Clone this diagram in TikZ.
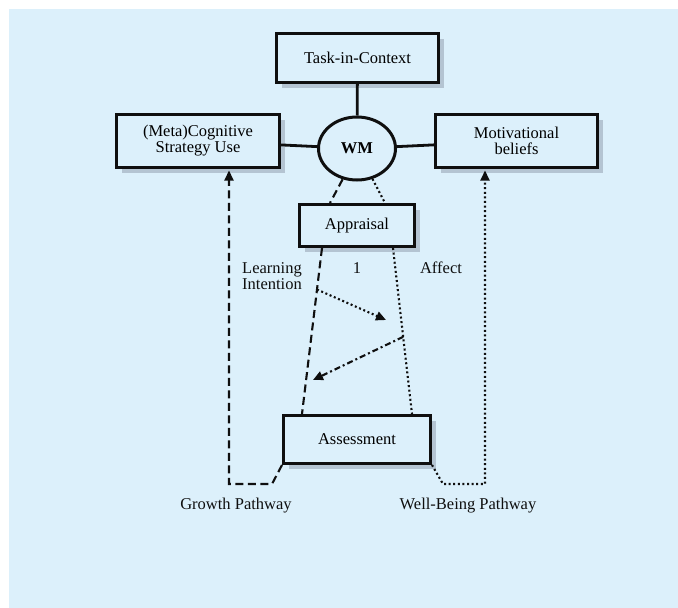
\documentclass[tikz,border=0pt]{standalone}
\usepackage{fontspec}
\setmainfont{Liberation Serif}
\usetikzlibrary{shapes.geometric,shadows,arrows.meta,calc}
\definecolor{bgblue}{RGB}{220,240,251}
\definecolor{shadowc}{RGB}{180,196,210}
\definecolor{ink}{RGB}{15,15,15}
\begin{document}
\begin{tikzpicture}[x=1pt,y=-1pt,
  box/.style={draw=ink,line width=3pt,fill=bgblue,rectangle,align=center,inner sep=0pt,
    font=\fontsize{16.5}{16}\selectfont,
    drop shadow={shadow xshift=5pt,shadow yshift=-5pt,fill=shadowc,opacity=1}},
  link/.style={draw=ink,line width=2.8pt},
  dashline/.style={draw=ink,line width=2.1pt,dash pattern=on 8pt off 4.5pt},
  dotline/.style={draw=ink,line width=2.1pt,dash pattern=on 2pt off 2.6pt},
  dashdotline/.style={draw=ink,line width=2.1pt,dash pattern=on 6pt off 3pt on 2pt off 3pt},
  tip/.style={-{Triangle[length=10pt,width=9pt]}},
  lbl/.style={font=\fontsize{16.5}{16}\selectfont,text=ink,inner sep=0pt}
]
\useasboundingbox (0,0) rectangle (678,608);
\fill[white] (0,0) rectangle (678,608);
\fill[bgblue] (9,9) rectangle (678,608);

\node[box,minimum width=162pt,minimum height=49pt] (task) at (357.5,58) {Task-in-Context};
\node[box,minimum width=163pt,minimum height=53pt] (cog) at (198,141) {(Meta)Cognitive\\Strategy Use};
\node[box,minimum width=162pt,minimum height=53pt] (mot) at (516.5,141) {Motivational\\beliefs};
\node[draw=ink,line width=3pt,fill=bgblue,ellipse,minimum width=77pt,minimum height=63pt,inner sep=0pt,
      font=\bfseries\fontsize{16.5}{16}\selectfont] (wm) at (357,148.5) {WM};
\node[box,minimum width=115pt,minimum height=42pt] (appr) at (357,225.5) {Appraisal};
\node[box,minimum width=147pt,minimum height=48pt] (assess) at (357,439.5) {Assessment};

\draw[link] (task) -- (wm);
\draw[link] (cog) -- (wm);
\draw[link] (wm) -- (mot);

\draw[dashline] (wm.245) -- ([xshift=-27pt]appr.north);
\draw[dotline] (wm.297) -- ([xshift=28pt]appr.north);

\coordinate (lt) at ([xshift=-35pt]appr.south);
\coordinate (lb) at ([xshift=-55pt]assess.north);
\coordinate (rt) at ([xshift=36pt]appr.south);
\coordinate (rb) at ([xshift=55pt]assess.north);
\draw[dashline] (lt) -- (lb);
\draw[dotline] (rt) -- (rb);

\coordinate (a1end) at (386,320);
\coordinate (a2end) at (313,380);
\draw[dotline,tip] ($(lt)!0.25!(lb)$) -- (a1end);
\draw[dashdotline,tip] ($(rt)!0.535!(rb)$) -- (a2end);

\draw[dashline,tip] (assess.south west) -- ++(-10,19) -| ([xshift=31pt,yshift=-1.5pt]cog.south);
\draw[dotline,tip] (assess.south east) -- ++(11,19) -| ([xshift=-31.5pt,yshift=-1.5pt]mot.south);

\node[lbl,align=left] (li) at (272,276) {Learning\\Intention};
\node[lbl] (one) at (357,268) {1};
\node[lbl] (aff) at (441,268) {Affect};
\node[lbl] (grow) at (236,506) {Growth Pathway};
\node[lbl] (well) at (468,506) {Well-Being Pathway};
\end{tikzpicture}
\end{document}
